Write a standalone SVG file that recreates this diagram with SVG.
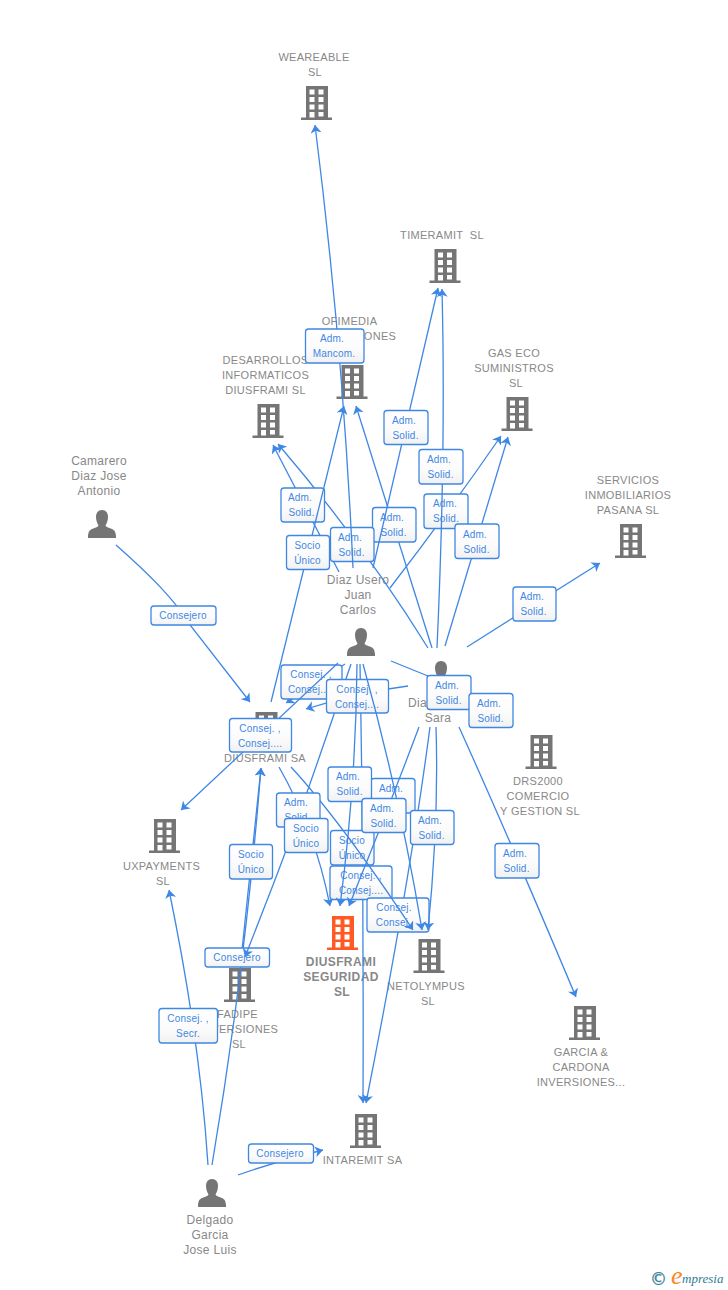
<svg xmlns="http://www.w3.org/2000/svg" width="728" height="1290" viewBox="0 0 728 1290">
<style>
text{font-family:"Liberation Sans",Arial,sans-serif}
.n{font-size:11px;fill:#888;text-anchor:middle;letter-spacing:.3px;white-space:pre}
.p{font-size:12px;fill:#888;text-anchor:middle;letter-spacing:.3px}
.b{font-size:12px;font-weight:bold;fill:#888;text-anchor:middle;letter-spacing:.4px}
.l{font-size:10px;fill:#3f87e4;text-anchor:middle;letter-spacing:.2px}
.c path{fill:none;stroke:#3f87e4;stroke-width:1.3;marker-end:url(#a)}
.c path.o{marker-end:none}
.r{fill:url(#g);stroke:#3f87e4;stroke-width:1.3}
</style>
<defs>
<linearGradient id="g" x1="0" y1="0" x2="0" y2="1"><stop offset="0" stop-color="#fff"/><stop offset=".6" stop-color="#fbfbfb"/><stop offset="1" stop-color="#f1f1f1"/></linearGradient>
<marker id="a" markerUnits="userSpaceOnUse" viewBox="0 0 8 11" markerWidth="8" markerHeight="11" refX="8" refY="5.5" orient="auto"><path d="M8,5.5 L0,0 L2.2,5.5 L0,11 Z" fill="#3f87e4"/></marker>
<symbol id="bd" viewBox="0 0 32 34" width="32" height="34" overflow="visible">
<path fill-rule="evenodd" d="M5.5,0H27.5V31.5H31.5V34H.5V31.5H5.5ZM9,3.5V8.5H14V3.5ZM18,3.5V8.5H23V3.5ZM9,11V16H14V11ZM18,11V16H23V11ZM9,18.5V23.500H14V18.500ZM18,18.500V23.500H23V18.500ZM9,26V31.500H14V26ZM18,26V30.500H23V26Z"/>
</symbol>
<symbol id="pn" viewBox="0 0 28 28" width="28" height="28">
<path fill="#757575" d="M14,0C18,0 20,3 20,7C20,11 18.500,13.500 17.500,15.500C18,17 20,17.500 24,19C27,20.500 27.500,22 28,26V28H0V26C.5,22 1,20.500 4,19C8,17.500 10,17 10.500,15.500C9.500,13.500 8,11 8,7C8,3 10,0 14,0Z"/>
</symbol>
</defs>
<g id="node-weareable"><text class="n" x="314" y="61">WEAREABLE</text><text class="n" x="315" y="76">SL</text><use href="#bd" x="300.500" y="86" fill="#757575"/></g>
<g id="node-timeramit"><text class="n" x="442" y="239">TIMERAMIT  SL</text><use href="#bd" x="429" y="249" fill="#757575"/></g>
<g id="node-ofimedia"><text class="n" x="349.500" y="325">OFIMEDIA</text><text class="n" x="380" y="340">ONES</text><use href="#bd" x="336" y="365" fill="#757575"/></g>
<g id="node-desarrollos"><text class="n" x="265.500" y="364">DESARROLLOS</text><text class="n" x="265.500" y="379">INFORMATICOS</text><text class="n" x="265.500" y="394">DIUSFRAMI SL</text><use href="#bd" x="252" y="404" fill="#757575"/></g>
<g id="node-gaseco"><text class="n" x="514" y="357">GAS ECO</text><text class="n" x="514" y="372">SUMINISTROS</text><text class="n" x="516" y="387">SL</text><use href="#bd" x="501" y="397" fill="#757575"/></g>
<g id="node-servicios"><text class="n" x="628" y="484">SERVICIOS</text><text class="n" x="628" y="499">INMOBILIARIOS</text><text class="n" x="628" y="514">PASANA SL</text><use href="#bd" x="614.500" y="524" fill="#757575"/></g>
<g id="node-camarero"><text class="p" x="99" y="465">Camarero</text><text class="p" x="99" y="480">Diaz Jose</text><text class="p" x="99" y="495">Antonio</text><use href="#pn" x="88" y="510"/></g>
<g id="node-juan"><text class="p" x="358" y="584">Diaz Usero</text><text class="p" x="358" y="599">Juan</text><text class="p" x="358" y="614">Carlos</text><use href="#pn" x="347" y="628"/></g>
<g id="node-drs"><text class="n" x="538" y="785">DRS2000</text><text class="n" x="538" y="800">COMERCIO</text><text class="n" x="540" y="815">Y GESTION SL</text><use href="#bd" x="525" y="735" fill="#757575"/></g>
<g id="node-uxpayments"><text class="n" x="161.500" y="870">UXPAYMENTS</text><text class="n" x="163" y="885">SL</text><use href="#bd" x="148.500" y="819" fill="#757575"/></g>
<g id="node-diusframi"><use href="#bd" x="250" y="712" fill="#757575"/><text class="n" x="265" y="762">DIUSFRAMI SA</text></g>
<g id="node-seguridad"><text class="b" x="341" y="966">DIUSFRAMI</text><text class="b" x="341" y="981">SEGURIDAD</text><text class="b" x="342" y="996">SL</text><use href="#bd" x="326.500" y="916" fill="#ff5a26"/></g>
<g id="node-netolympus"><text class="n" x="426" y="990">NETOLYMPUS</text><text class="n" x="428" y="1005">SL</text><use href="#bd" x="413" y="939" fill="#757575"/></g>
<g id="node-fadipe"><text class="n" x="237.500" y="1018">FADIPE</text><text class="n" x="239" y="1033">INVERSIONES</text><text class="n" x="239" y="1048">SL</text><use href="#bd" x="223.500" y="968" fill="#757575"/></g>
<g id="node-garcia"><text class="n" x="581" y="1056">GARCIA &amp;</text><text class="n" x="581" y="1071">CARDONA</text><text class="n" x="581" y="1086">INVERSIONES...</text><use href="#bd" x="568.500" y="1006" fill="#757575"/></g>
<g id="node-intaremit"><text class="n" x="362.500" y="1164">INTAREMIT SA</text><use href="#bd" x="349.500" y="1114" fill="#757575"/></g>
<g id="node-delgado"><text class="p" x="210" y="1224">Delgado</text><text class="p" x="210" y="1239">Garcia</text><text class="p" x="210" y="1254">Jose Luis</text><use href="#pn" x="198" y="1179"/></g>
<g id="node-sara"><use href="#pn" x="427" y="661"/><text class="p" x="408" y="707" style="text-anchor:start">Dia</text><text class="p" x="438" y="722">Sara</text></g>
<g id="connectors-under" class="c">
<path d="M339,572Q308,512 273,445"/>
<path d="M428,648Q365,546 278,444"/>
<path d="M432,648Q395,530 356,406"/>
<path d="M445,646Q480,530 508,437"/>
<path d="M390,588Q450,510 501,436"/>
<path d="M467,647L600,563"/>
<path d="M116,545C150,575 175,600 190,625L250,702"/>
<path d="M345,664L286,703"/>
<path d="M408,686Q360,692 306,709"/>
<path class="o" d="M391,661L428,676"/>
<path class="o" d="M351,664Q302,810 273,885"/>
<path d="M360,664Q364,880 363,1103"/>
<path d="M430,727Q410,880 366,1103"/>
<path d="M459,727Q510,840 576,997"/>
<path d="M279,767Q315,830 330,906"/>
<path d="M208,1165Q200,1040 169,890"/>
<path d="M212,1165Q245.500,967 261,768"/>
<path d="M241.500,955L261,768"/>
<path d="M238,1175Q280,1160 323,1150"/>
</g>
<g id="labels-under">
<g><rect class="r" x="281" y="488" width="43.500" height="34" rx="3"/><text class="l" x="300" y="501">Adm.</text><text class="l" x="301.500" y="516">Solid.</text></g>
<g><rect class="r" x="424" y="494" width="44" height="34.500" rx="3"/><text class="l" x="445" y="507">Adm.</text><text class="l" x="446" y="522">Solid.</text></g>
<g><rect class="r" x="372.500" y="507.500" width="43.500" height="34.500" rx="3"/><text class="l" x="392" y="521">Adm.</text><text class="l" x="393.500" y="536">Solid.</text></g>
<g><rect class="r" x="330.500" y="527.500" width="43.500" height="34" rx="3"/><text class="l" x="350" y="541">Adm.</text><text class="l" x="351.500" y="556">Solid.</text></g>
<g><rect class="r" x="281" y="665" width="61" height="34" rx="3"/><text class="l" x="311" y="678">Consej. ,</text><text class="l" x="310" y="693">Consej....</text></g>
<g><rect class="r" x="326.500" y="679.500" width="62" height="33.500" rx="3"/><text class="l" x="357" y="693">Consej. ,</text><text class="l" x="357" y="708">Consej....</text></g>
<g><rect class="r" x="371" y="778.500" width="44" height="34.500" rx="3"/><text class="l" x="391" y="792">Adm.</text></g>
<g><rect class="r" x="330.500" y="830.500" width="43.500" height="34.500" rx="3"/><text class="l" x="352" y="844">Socio</text><text class="l" x="352" y="859">Único</text></g>
<g><rect class="r" x="330" y="866" width="62" height="33.500" rx="3"/><text class="l" x="361" y="879">Consej. ,</text><text class="l" x="361" y="894">Consej....</text></g>
<g><rect class="r" x="367" y="898" width="62" height="34" rx="3"/><text class="l" x="394" y="911">Consej.</text><text class="l" x="392" y="926">Consej</text></g>
<g><rect class="r" x="205" y="948" width="64.500" height="19" rx="3"/><text class="l" x="237" y="961">Consejero</text></g>
</g>
<g id="connectors-over" class="c">
<path d="M353,568Q343,347 315,125"/>
<path d="M373,568L438,288"/>
<path d="M437,648Q446,450 442,289"/>
<path d="M271,702L344,406"/>
<path d="M338,663L181,810"/>
<path d="M273,885L245,957"/>
<path d="M357,664Q356,785 340,906"/>
<path d="M419,727Q386,815 349,906"/>
<path d="M291,767Q340,820 413,930"/>
<path d="M363,664Q400,797 422,930"/>
<path d="M436,727Q439,820 428,930"/>
</g>
<g id="labels-over">
<g><rect class="r" x="305.500" y="329" width="58.500" height="34" rx="3"/><text class="l" x="332" y="342">Adm.</text><text class="l" x="334" y="357">Mancom.</text></g>
<g><rect class="r" x="384" y="410.500" width="44" height="34" rx="3"/><text class="l" x="404" y="424">Adm.</text><text class="l" x="405.500" y="439">Solid.</text></g>
<g><rect class="r" x="419" y="449.500" width="44" height="34.500" rx="3"/><text class="l" x="439" y="463">Adm.</text><text class="l" x="440.500" y="478">Solid.</text></g>
<g><rect class="r" x="455" y="524" width="44" height="34.500" rx="3"/><text class="l" x="475" y="538">Adm.</text><text class="l" x="476.500" y="553">Solid.</text></g>
<g><rect class="r" x="286.500" y="535.500" width="43" height="34" rx="3"/><text class="l" x="307.500" y="549">Socio</text><text class="l" x="307.500" y="564">Único</text></g>
<g><rect class="r" x="513" y="587" width="43" height="34" rx="3"/><text class="l" x="532" y="600">Adm.</text><text class="l" x="533.500" y="615">Solid.</text></g>
<g><rect class="r" x="151" y="606" width="65" height="19" rx="3"/><text class="l" x="183" y="619">Consejero</text></g>
<g><rect class="r" x="427" y="675.500" width="44" height="34" rx="3"/><text class="l" x="447" y="689">Adm.</text><text class="l" x="448.500" y="704">Solid.</text></g>
<g><rect class="r" x="469" y="693.500" width="44" height="34" rx="3"/><text class="l" x="489" y="707">Adm.</text><text class="l" x="490.500" y="722">Solid.</text></g>
<g><rect class="r" x="229.500" y="718.500" width="62" height="33.500" rx="3"/><text class="l" x="260" y="732">Consej. ,</text><text class="l" x="260" y="747">Consej....</text></g>
<g><rect class="r" x="276.500" y="793" width="43.500" height="34" rx="3"/><text class="l" x="296" y="806">Adm.</text><text class="l" x="297.500" y="821">Solid.</text></g>
<g><rect class="r" x="328" y="767" width="43.500" height="34.500" rx="3"/><text class="l" x="348" y="780">Adm.</text><text class="l" x="349.500" y="795">Solid.</text></g>
<g><rect class="r" x="284.500" y="818.500" width="43.500" height="34" rx="3"/><text class="l" x="306" y="832">Socio</text><text class="l" x="306" y="847">Único</text></g>
<g><rect class="r" x="362" y="798.500" width="44" height="34" rx="3"/><text class="l" x="382" y="812">Adm.</text><text class="l" x="383.500" y="827">Solid.</text></g>
<g><rect class="r" x="410.500" y="810.500" width="43.500" height="34" rx="3"/><text class="l" x="430" y="824">Adm.</text><text class="l" x="431.500" y="839">Solid.</text></g>
<g><rect class="r" x="495" y="843.500" width="44" height="34.500" rx="3"/><text class="l" x="515" y="857">Adm.</text><text class="l" x="516.500" y="872">Solid.</text></g>
<g><rect class="r" x="229.500" y="844.500" width="43" height="34.500" rx="3"/><text class="l" x="251" y="858">Socio</text><text class="l" x="251" y="873">Único</text></g>
<g><rect class="r" x="159" y="1008.500" width="58.500" height="34.500" rx="3"/><text class="l" x="188" y="1022">Consej. ,</text><text class="l" x="188" y="1037">Secr.</text></g>
<g><rect class="r" x="248.500" y="1144" width="65" height="19" rx="3"/><text class="l" x="280" y="1157">Consejero</text></g>
</g>
<g id="logo">
<text x="650" y="1285" font-size="17" fill="#3d7f9b" stroke="#3d7f9b" stroke-width=".3" style="font-family:'DejaVu Sans',sans-serif">©</text>
<text x="671" y="1284" font-size="26" font-style="italic" fill="#f7881f" style="font-family:'Liberation Serif',serif">e</text>
<text x="682" y="1283" font-size="13" font-style="italic" fill="#2f7a94" style="font-family:'Liberation Serif',serif">mpresia</text>
</g>
</svg>
